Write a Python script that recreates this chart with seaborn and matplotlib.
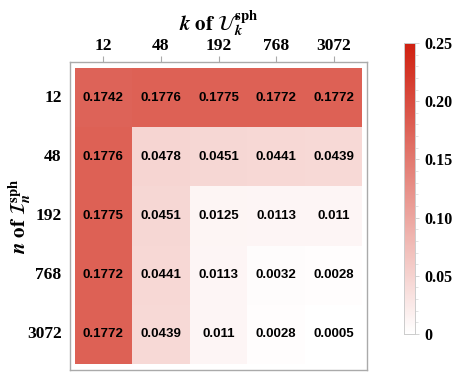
import numpy as np
import pandas as pd
import matplotlib
matplotlib.use("Agg")
import matplotlib.pyplot as plt
import seaborn as sns
from matplotlib.colors import LinearSegmentedColormap

# grid values
k_vals = ["12", "48", "192", "768", "3072"]
n_vals = ["12", "48", "192", "768", "3072"]
row_12 = [0.1742, 0.1776, 0.1775, 0.1772, 0.1772]
row_48 = [0.1776, 0.0478, 0.0451, 0.0441, 0.0439]
row_192 = [0.1775, 0.0451, 0.0125, 0.0113, 0.011]
row_768 = [0.1772, 0.0441, 0.0113, 0.0032, 0.0028]
row_3072 = [0.1772, 0.0439, 0.011, 0.0028, 0.0005]
cbar_ticks = [0, 0.05, 0.10, 0.15, 0.20, 0.25]
cbar_labels = ["0", "0.05", "0.10", "0.15", "0.20", "0.25"]

df = pd.DataFrame([row_12, row_48, row_192, row_768, row_3072], index=n_vals, columns=k_vals)
annot = df.map(lambda v: ("%.4f" % v).rstrip("0"))

sns.set_style("white")
plt.rcParams["mathtext.fontset"] = "stix"
plt.rcParams["text.color"] = "black"
plt.rcParams["axes.labelcolor"] = "black"
plt.rcParams["xtick.labelcolor"] = "black"
plt.rcParams["ytick.labelcolor"] = "black"
serif = "Liberation Serif"

cmap = LinearSegmentedColormap.from_list("wr", ["#ffffff", "#cf2010"])

fig = plt.figure(figsize=(4.57, 3.88), dpi=100)
ax = fig.add_axes([70/457, 1-370/388, 297/457, 308/388])
cax = fig.add_axes([404/457, 1-334/388, 11/457, 291/388])

sns.heatmap(df, ax=ax, cbar_ax=cax, cmap=cmap, vmin=0, vmax=0.25,
            annot=annot, fmt="", linewidths=0,
            annot_kws={"fontsize": 9.5, "fontweight": "bold", "family": "Liberation Sans", "color": "black"},
            cbar_kws={"ticks": cbar_ticks})

ax.set_xlim(-0.08, 5.08)
ax.set_ylim(5.1, -0.1)
ax.xaxis.tick_top()
ax.xaxis.set_label_position("top")
for s in ax.spines.values():
    s.set_visible(True)
    s.set_color("#aaaaaa")
    s.set_linewidth(1)
ax.tick_params(axis="both", length=4, width=0.8, color="#aaaaaa", pad=2, labelcolor="black")
ax.set_xticklabels(k_vals, rotation=0, fontsize=12.5, fontweight="bold", family=serif, color="black")
ax.set_yticklabels(n_vals, rotation=0, fontsize=12.5, fontweight="bold", family=serif, color="black")

ax.set_xlabel(r"$\boldsymbol{k}\ \mathbf{of}\ \mathcal{U}_{\boldsymbol{k}}^{\mathbf{sph}}$", fontsize=15, va="center", color="black")
ax.set_ylabel(r"$\boldsymbol{n}\ \mathbf{of}\ \mathcal{I}_{\boldsymbol{n}}^{\mathbf{sph}}$", fontsize=15, va="center", color="black")
ax.xaxis.set_label_coords(0.5, (370-24)/308)
ax.yaxis.set_label_coords((20-70)/297, 0.5)

cax.set_yticklabels(cbar_labels, fontsize=11.5, fontweight="bold", family=serif, color="black")
cax.tick_params(length=3, color="#cccccc", width=0.6)
cax.yaxis.set_minor_locator(matplotlib.ticker.MultipleLocator(0.01))
cax.tick_params(which="minor", length=2, color="#dddddd", right=True)
for s in cax.spines.values():
    s.set_visible(True)
    s.set_color("#cccccc")
    s.set_linewidth(0.6)

fig.savefig("out.png", dpi=100)
